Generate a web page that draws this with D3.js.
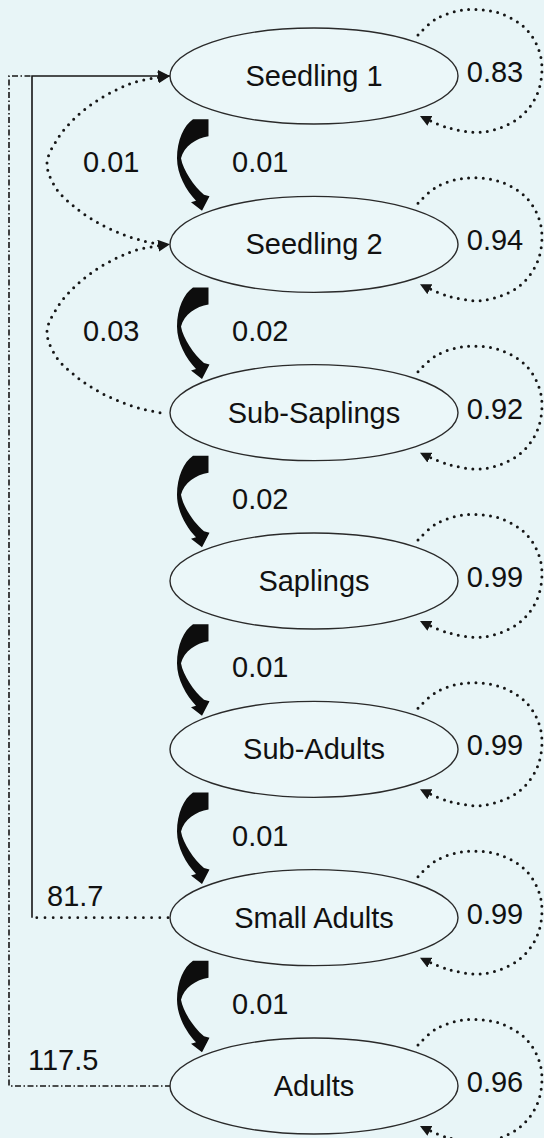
<!DOCTYPE html>
<html>
<head>
<meta charset="utf-8">
<script src="https://cdn.jsdelivr.net/npm/d3@7"></script>
<style>
  html, body { margin: 0; padding: 0; background: #e8f5f7; }
  svg { display: block; }
  text { font-family: "Liberation Sans", Arial, sans-serif; fill: #111; }
</style>
</head>
<body>
<svg id="chart" width="544" height="1138"></svg>
<script>
// ---- data ----
const stages = ["Seedling 1", "Seedling 2", "Sub-Saplings", "Saplings", "Sub-Adults", "Small Adults", "Adults"];
const stasis = [0.83, 0.94, 0.92, 0.99, 0.99, 0.99, 0.96];
const growth = [0.01, 0.02, 0.02, 0.01, 0.01, 0.01];          // stage i -> stage i+1
const retroFrom = ["Seedling 2", "Sub-Saplings"];
const retroTo = ["Seedling 1", "Seedling 2"];
const retroValues = [0.01, 0.03];
const fecFrom = ["Small Adults", "Adults"];
const fecValues = [81.7, 117.5];

// ---- layout ----
const W = 544, H = 1138;
const svg = d3.select("#chart");
svg.append("rect").attr("width", W).attr("height", H).attr("fill", "#e8f5f7");

const y = d3.scalePoint().domain(stages).range([76, 1086]);
const cx = 314, rx = 144, ry = 48;
const leftX = cx - rx;           // 170
const fmtP = d3.format(".2f");
const fmtF = d3.format(".1f");
const ink = "#161616";
const FS = 29;

const defs = svg.append("defs");
function marker(id, len, half) {
  defs.append("marker")
    .attr("id", id).attr("viewBox", `0 ${-half} ${len} ${2 * half}`)
    .attr("refX", len).attr("refY", 0)
    .attr("markerUnits", "userSpaceOnUse")
    .attr("markerWidth", len).attr("markerHeight", 2 * half)
    .attr("orient", "auto")
    .append("path").attr("d", `M0,${-half}L${len},0L0,${half}Z`).attr("fill", ink);
}
marker("arrowBig", 12, 6);
marker("arrowLoop", 11, 5.5);

const lineCR = d3.line().curve(d3.curveCatmullRom.alpha(0.5));

// ---- feedback (fecundity) lines ----
const xSolid = 32, xDash = 9;
const yTop = y(stages[0]);
const ySA = y(fecFrom[0]);
svg.append("line")
  .attr("x1", leftX - 2).attr("y1", ySA).attr("x2", xSolid + 4).attr("y2", ySA)
  .attr("stroke", ink).attr("stroke-width", 2.8)
  .attr("stroke-dasharray", "0 8.2").attr("stroke-linecap", "round");
svg.append("path")
  .attr("d", d3.line()([[xSolid, ySA], [xSolid, yTop], [leftX, yTop]]))
  .attr("fill", "none").attr("stroke", ink).attr("stroke-width", 1.6)
  .attr("marker-end", "url(#arrowBig)");
const yAd = y(fecFrom[1]);
svg.append("path")
  .attr("d", d3.line()([[leftX + 1, yAd], [xDash, yAd], [xDash, yTop], [xSolid, yTop]]))
  .attr("fill", "none").attr("stroke", ink).attr("stroke-width", 1.6)
  .attr("stroke-dasharray", "6 2.5 1.5 2.5");

svg.append("text").attr("x", 47).attr("y", ySA - 12).attr("font-size", FS).text(fmtF(fecValues[0]));
svg.append("text").attr("x", 28).attr("y", yAd - 16).attr("font-size", FS).text(fmtF(fecValues[1]));

// ---- retrogression loops (left, dotted) ----
// relative shape: py=-84 is the upper node, py=+84 the lower node
const loopRel = [[160, -84], [139, -79], [118, -71], [95, -58], [75, -42], [58, -22], [47, 3],
                 [56, 28], [75, 47], [97, 62], [120, 73], [141, 80], [160, 84]];
retroFrom.forEach((f, i) => {
  const yf = y(f), yt = y(retroTo[i]);
  const m = (yf + yt) / 2, h = (yf - yt) / 2;
  // from lower ("from") to upper ("to")
  const pts = loopRel.slice().reverse().map(([px, py]) => [px, m + py * h / 84]);
  pts[pts.length - 1][0] = leftX;
  svg.append("path")
    .attr("d", lineCR(pts))
    .attr("fill", "none").attr("stroke", ink).attr("stroke-width", 3)
    .attr("stroke-dasharray", "0 7.4").attr("stroke-linecap", "round")
    .attr("marker-end", "url(#arrowBig)");
  svg.append("text").attr("x", 83).attr("y", m + 12).attr("font-size", FS).text(fmtP(retroValues[i]));
});

// ---- self loops (right, dotted) ----
const selfRel = [[104, -41], [122, -57], [150, -66], [185, -63], [213, -46], [227, -18],
                 [224, 16], [205, 42], [170, 56], [135, 52], [106, 40]];
stages.forEach((s, i) => {
  const cy = y(s);
  svg.append("path")
    .attr("d", lineCR(selfRel.map(([dx, dy]) => [cx + dx, cy + dy])))
    .attr("fill", "none").attr("stroke", ink).attr("stroke-width", 3)
    .attr("stroke-dasharray", "0 7.3").attr("stroke-linecap", "round")
    .attr("marker-end", "url(#arrowLoop)");
});

// ---- nodes ----
const nodes = svg.selectAll("g.node").data(stages).join("g").attr("class", "node")
  .attr("transform", d => `translate(${cx},${y(d)})`);
nodes.append("ellipse").attr("rx", rx).attr("ry", ry)
  .attr("fill", "#ebf7f9").attr("stroke", "#2a2a2a").attr("stroke-width", 1.4);
nodes.append("text").attr("text-anchor", "middle").attr("y", 10).attr("font-size", FS).text(d => d);

svg.selectAll("text.stasis").data(stasis).join("text").attr("class", "stasis")
  .attr("x", 495).attr("y", (d, i) => y(stages[i]) + 6)
  .attr("text-anchor", "middle").attr("font-size", FS).text(d => fmtP(d));

// ---- growth arrows (thick black curved) ----
const ax = 208;
function growthPath(m) {
  const P = (dx, dy) => `${ax + dx},${m + dy}`;
  return `M${P(-15, -41)}L${P(0.5, -41)}L${P(0.5, -24)}` +
    `C${P(-12, -22)} ${P(-24, -14)} ${P(-27, -2)}` +
    `C${P(-25, 10)} ${P(-14, 26)} ${P(-4, 34.5)}` +
    `L${P(1.5, 36)}L${P(-6, 50.5)}L${P(-17, 42)}L${P(-12, 40.5)}` +
    `C${P(-22, 30)} ${P(-31, 14)} ${P(-31, -2)}` +
    `C${P(-31, -20)} ${P(-24, -35)} ${P(-15, -41)}Z`;
}
growth.forEach((g, i) => {
  const m = (y(stages[i]) + y(stages[i + 1])) / 2;
  svg.append("path").attr("d", growthPath(m)).attr("fill", "#0d0d0d");
  svg.append("text").attr("x", 232).attr("y", m + 12).attr("font-size", FS).text(fmtP(g));
});
</script>
</body>
</html>
